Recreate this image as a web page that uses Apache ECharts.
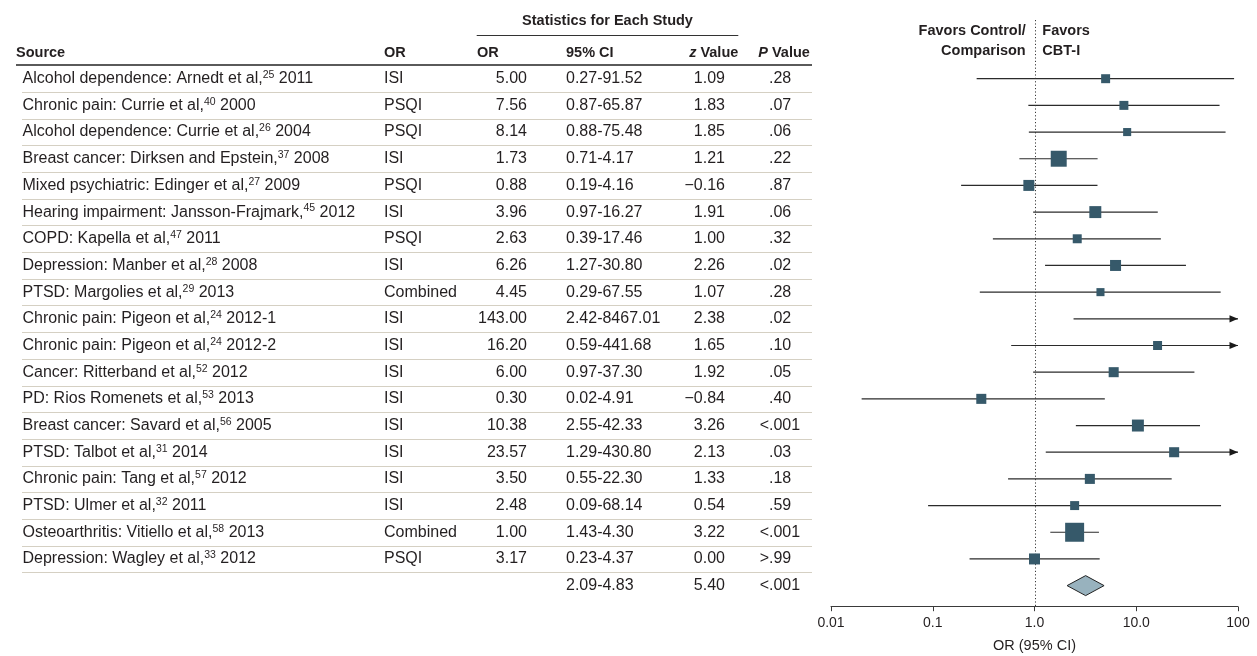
<!DOCTYPE html>
<html>
<head>
<meta charset="utf-8">
<script src="https://cdn.jsdelivr.net/npm/echarts@6/dist/echarts.min.js"></script>
<style>
  html, body { margin: 0; padding: 0; background: #ffffff; }
  #chart { width: 1257px; height: 656px; }
</style>
</head>
<body>
<div id="chart"></div>
<script>
// ---- Study-level data ----
const studies = [
  'Alcohol dependence: Arnedt et al,',
  'Chronic pain: Currie et al,',
  'Alcohol dependence: Currie et al,',
  'Breast cancer: Dirksen and Epstein,',
  'Mixed psychiatric: Edinger et al,',
  'Hearing impairment: Jansson-Frajmark,',
  'COPD: Kapella et al,',
  'Depression: Manber et al,',
  'PTSD: Margolies et al,',
  'Chronic pain: Pigeon et al,',
  'Chronic pain: Pigeon et al,',
  'Cancer: Ritterband et al,',
  'PD: Rios Romenets et al,',
  'Breast cancer: Savard et al,',
  'PTSD: Talbot et al,',
  'Chronic pain: Tang et al,',
  'PTSD: Ulmer et al,',
  'Osteoarthritis: Vitiello et al,',
  'Depression: Wagley et al,'
];
const refs = ['25', '40', '26', '37', '27', '45', '47', '28', '29', '24', '24', '52', '53', '56', '31', '57', '32', '58', '33'];
const years = ['2011', '2000', '2004', '2008', '2009', '2012', '2011', '2008', '2013', '2012-1', '2012-2', '2012', '2013', '2005', '2014', '2012', '2011', '2013', '2012'];
const measures = ['ISI', 'PSQI', 'PSQI', 'ISI', 'PSQI', 'ISI', 'PSQI', 'ISI', 'Combined', 'ISI', 'ISI', 'ISI', 'ISI', 'ISI', 'ISI', 'ISI', 'ISI', 'Combined', 'PSQI'];
const orValues = [5.00, 7.56, 8.14, 1.73, 0.88, 3.96, 2.63, 6.26, 4.45, 143.00, 16.20, 6.00, 0.30, 10.38, 23.57, 3.50, 2.48, 1.00, 3.17];
const ciLow = [0.27, 0.87, 0.88, 0.71, 0.19, 0.97, 0.39, 1.27, 0.29, 2.42, 0.59, 0.97, 0.02, 2.55, 1.29, 0.55, 0.09, 1.43, 0.23];
const ciHigh = [91.52, 65.87, 75.48, 4.17, 4.16, 16.27, 17.46, 30.80, 67.55, 8467.01, 441.68, 37.30, 4.91, 42.33, 430.80, 22.30, 68.14, 4.30, 4.37];
const zValues = [1.09, 1.83, 1.85, 1.21, -0.16, 1.91, 1.00, 2.26, 1.07, 2.38, 1.65, 1.92, -0.84, 3.26, 2.13, 1.33, 0.54, 3.22, 0.00];
const pValues = ['.28', '.07', '.06', '.22', '.87', '.06', '.32', '.02', '.28', '.02', '.10', '.05', '.40', '<.001', '.03', '.18', '.59', '<.001', '>.99'];
// point estimates as plotted in the forest panel
const estimates = [5.00, 7.56, 8.14, 1.73, 0.88, 3.96, 2.63, 6.26, 4.45, 143.00, 16.20, 6.00, 0.30, 10.38, 23.57, 3.50, 2.48, 2.48, 1.00];
// relative study weights (%), shown as square area
const weights = [3.6, 3.6, 2.9, 11.4, 5.4, 6.4, 3.6, 5.4, 2.9, 1.6, 3.6, 4.5, 4.5, 6.4, 4.5, 4.5, 3.6, 16.1, 5.4];

// ---- Pooled result ----
const pooledLow = 2.09;
const pooledHigh = 4.83;
const pooledEstimate = 3.18;
const pooledZ = 5.40;
const pooledP = '<.001';

// ---- Axis ----
const axisTicks = [0.01, 0.1, 1, 10, 100];
const tickLabels = ['0.01', '0.1', '1.0', '10.0', '100'];
const axisTitle = 'OR (95% CI)';

// ---- Layout & style ----
const BODY_FONT = '"Liberation Sans", Arial, sans-serif';
const HEAD_FONT = '"Liberation Sans", Arial, sans-serif';
const TEXT = '#231f20';
const BODY_SIZE = 16;
const SUP_SIZE = 10.5;
const HEAD_SIZE = 14.5;
const COL = { sourceX: 22.5, measureX: 384, orRight: 527, ciX: 566, zRight: 725, pDot: 769, ruleLeft: 22, ruleRight: 812 };
const Y_MIN = -2.2, Y_MAX = 19.79;
const AXIS_MAX = 100;
const SQUARE_SCALE = 4.73;

const rowCount = studies.length + 1; // studies plus pooled row
const fmt2 = v => (v < 0 ? '\u2212' : '') + Math.abs(v).toFixed(2);

function bodyText(text, x, y, align, extra) {
  return {
    type: 'text',
    style: Object.assign({
      text: text, x: x, y: y,
      fontSize: BODY_SIZE, fontFamily: BODY_FONT, fill: TEXT,
      align: align, verticalAlign: 'middle',
      textAlign: align, textVerticalAlign: 'middle'
    }, extra || {})
  };
}

function pValueParts(p, x, y) {
  const out = [];
  const first = p.charAt(0);
  if (first === '<' || first === '>') {
    out.push(bodyText(first, x, y, 'right'));
    out.push(bodyText(p.slice(1), x, y, 'left'));
  } else {
    out.push(bodyText(p, x, y, 'left'));
  }
  return out;
}

function renderTableRow(params, api) {
  const i = params.dataIndex;
  const y = api.coord([0, i])[1];
  const X = px => api.coord([px, i])[0];
  const children = [];
  if (i < studies.length) {
    children.push({
      type: 'text',
      style: {
        text: '{m|' + studies[i] + '}{s|' + refs[i] + '}{m| ' + years[i] + '}',
        x: X(COL.sourceX), y: y,
        align: 'left', verticalAlign: 'middle',
        textAlign: 'left', textVerticalAlign: 'middle',
        fill: TEXT,
        rich: {
          m: { fontSize: BODY_SIZE, fontFamily: BODY_FONT, lineHeight: 18, fill: TEXT },
          s: { fontSize: SUP_SIZE, fontFamily: BODY_FONT, verticalAlign: 'top', fill: TEXT }
        }
      }
    });
    children.push(bodyText(measures[i], X(COL.measureX), y, 'left'));
    children.push(bodyText(orValues[i].toFixed(2), X(COL.orRight), y, 'right'));
    children.push(bodyText(ciLow[i].toFixed(2) + '-' + ciHigh[i].toFixed(2), X(COL.ciX), y, 'left'));
    children.push(bodyText(fmt2(zValues[i]), X(COL.zRight), y, 'right'));
    pValueParts(pValues[i], X(COL.pDot), y).forEach(e => children.push(e));
    const yr = Math.round(api.coord([0, i + 0.5])[1]) + 0.5;
    children.push({
      type: 'line',
      shape: { x1: X(COL.ruleLeft), y1: yr, x2: X(COL.ruleRight), y2: yr },
      style: { stroke: '#d5d0c3', lineWidth: 1 }
    });
  } else {
    children.push(bodyText(pooledLow.toFixed(2) + '-' + pooledHigh.toFixed(2), X(COL.ciX), y, 'left'));
    children.push(bodyText(fmt2(pooledZ), X(COL.zRight), y, 'right'));
    pValueParts(pooledP, X(COL.pDot), y).forEach(e => children.push(e));
  }
  return { type: 'group', children: children };
}

function renderStudy(params, api) {
  const i = api.value(0);
  const lo = api.value(1), hi = api.value(2), est = api.value(3), w = api.value(4);
  const p0 = api.coord([lo, i]);
  const p1 = api.coord([Math.min(hi, AXIS_MAX), i]);
  const children = [{
    type: 'line',
    shape: { x1: p0[0], y1: p0[1], x2: p1[0], y2: p1[1] },
    style: { stroke: '#2b2b2b', lineWidth: 1.2 }
  }];
  if (hi > AXIS_MAX) {
    children.push({
      type: 'polygon',
      shape: { points: [[p1[0], p1[1]], [p1[0] - 8.5, p1[1] - 3.6], [p1[0] - 8.5, p1[1] + 3.6]] },
      style: { fill: '#1a1a1a' }
    });
  }
  if (est <= AXIS_MAX) {
    const c = api.coord([est, i]);
    const s = Math.sqrt(w) * SQUARE_SCALE;
    children.push({
      type: 'rect',
      shape: { x: c[0] - s / 2, y: c[1] - s / 2, width: s, height: s },
      style: { fill: '#36596a' }
    });
  }
  return { type: 'group', children: children };
}

function renderPooled(params, api) {
  const i = api.value(0);
  const l = api.coord([api.value(1), i]);
  const h = api.coord([api.value(2), i]);
  const c = api.coord([api.value(3), i]);
  const half = 10;
  return {
    type: 'polygon',
    shape: { points: [[l[0], l[1]], [c[0], c[1] - half], [h[0], h[1]], [c[0], c[1] + half]] },
    style: { fill: '#98b2be', stroke: '#222222', lineWidth: 1 }
  };
}

function renderNullLine(params, api) {
  const x = Math.round(api.coord([api.value(1), 0])[0]) + 0.5;
  const cs = params.coordSys;
  return {
    type: 'line',
    shape: { x1: x, y1: cs.y, x2: x, y2: cs.y + cs.height },
    style: { stroke: '#3a3a3a', lineWidth: 1, lineDash: [1.2, 2.2] }
  };
}

function headText(text, x, y, align, rich) {
  const st = {
    text: text, x: x, y: y,
    fontSize: HEAD_SIZE, fontFamily: HEAD_FONT, fontWeight: 'bold', fill: TEXT,
    align: align, verticalAlign: 'middle',
    textAlign: align, textVerticalAlign: 'middle'
  };
  if (rich) st.rich = rich;
  return { type: 'text', silent: true, style: st };
}

const italicRich = {
  i: { fontSize: HEAD_SIZE, fontFamily: HEAD_FONT, fontWeight: 'bold', fontStyle: 'italic', fill: TEXT },
  b: { fontSize: HEAD_SIZE, fontFamily: HEAD_FONT, fontWeight: 'bold', fill: TEXT }
};

const chart = echarts.init(document.getElementById('chart'), null, { renderer: 'canvas' });

const rowIndex = Array.from({ length: rowCount }, (_, i) => i);

chart.setOption({
  animation: false,
  backgroundColor: '#ffffff',
  grid: [
    { left: 0, top: 20, width: 830, bottom: 49.3, outerBoundsMode: 'none' },
    { left: 831, top: 20, width: 407, bottom: 49.3, outerBoundsMode: 'none' }
  ],
  xAxis: [
    { type: 'value', gridIndex: 0, min: 0, max: 830, show: false },
    {
      type: 'log', gridIndex: 1, logBase: 10, min: axisTicks[0], max: axisTicks[axisTicks.length - 1],
      position: 'bottom',
      axisLine: { show: true, onZero: false, lineStyle: { color: '#3a3a3a', width: 1 } },
      axisTick: { show: true, inside: false, length: 4.5, lineStyle: { color: '#3a3a3a', width: 1 } },
      minorTick: { show: false },
      splitLine: { show: false },
      axisLabel: {
        show: true, margin: 9.5, fontSize: 14, fontFamily: BODY_FONT, color: TEXT,
        formatter: function (v) {
          for (let k = 0; k < axisTicks.length; k++) {
            if (Math.abs(Math.log10(v) - Math.log10(axisTicks[k])) < 1e-6) return tickLabels[k];
          }
          return '';
        }
      },
      name: axisTitle, nameLocation: 'middle', nameGap: 32,
      nameTextStyle: { fontSize: 14.5, fontFamily: BODY_FONT, color: TEXT }
    }
  ],
  yAxis: [
    { type: 'value', gridIndex: 0, inverse: true, min: Y_MIN, max: Y_MAX, show: false },
    { type: 'value', gridIndex: 1, inverse: true, min: Y_MIN, max: Y_MAX, show: false }
  ],
  graphic: [
    headText('Statistics for Each Study', 607.5, 20.7, 'center'),
    { type: 'line', silent: true, shape: { x1: 476.7, y1: 35.5, x2: 738.3, y2: 35.5 }, style: { stroke: '#333333', lineWidth: 1 } },
    headText('Source', 16, 52.5, 'left'),
    headText('OR', 384, 52.5, 'left'),
    headText('OR', 477, 52.5, 'left'),
    headText('95% CI', 566, 52.5, 'left'),
    headText('{i|z}{b| Value}', 738.3, 52.5, 'right', italicRich),
    headText('{i|P}{b| Value}', 758.3, 52.5, 'left', italicRich),
    { type: 'line', silent: true, shape: { x1: 16, y1: 65, x2: 812, y2: 65 }, style: { stroke: '#5a5a5a', lineWidth: 2 } },
    headText('Favors Control/', 1025.7, 30.7, 'right'),
    headText('Comparison', 1025.7, 50.7, 'right'),
    headText('Favors', 1042.3, 30.7, 'left'),
    headText('CBT-I', 1042.3, 50.7, 'left')
  ],
  series: [
    {
      type: 'custom', name: 'table', xAxisIndex: 0, yAxisIndex: 0,
      encode: { x: 0, y: 1 },
      data: rowIndex.map(i => [0, i]),
      renderItem: renderTableRow, silent: true
    },
    {
      type: 'custom', name: 'null line', xAxisIndex: 1, yAxisIndex: 1,
      encode: { x: 1, y: 0 },
      data: [[0, 1]],
      renderItem: renderNullLine, silent: true
    },
    {
      type: 'custom', name: 'studies', xAxisIndex: 1, yAxisIndex: 1,
      encode: { x: 1, y: 0 },
      data: studies.map((_, i) => [i, ciLow[i], ciHigh[i], estimates[i], weights[i]]),
      renderItem: renderStudy, silent: true
    },
    {
      type: 'custom', name: 'pooled', xAxisIndex: 1, yAxisIndex: 1,
      encode: { x: 1, y: 0 },
      data: [[studies.length, pooledLow, pooledHigh, pooledEstimate]],
      renderItem: renderPooled, silent: true
    }
  ]
});
</script>
</body>
</html>
